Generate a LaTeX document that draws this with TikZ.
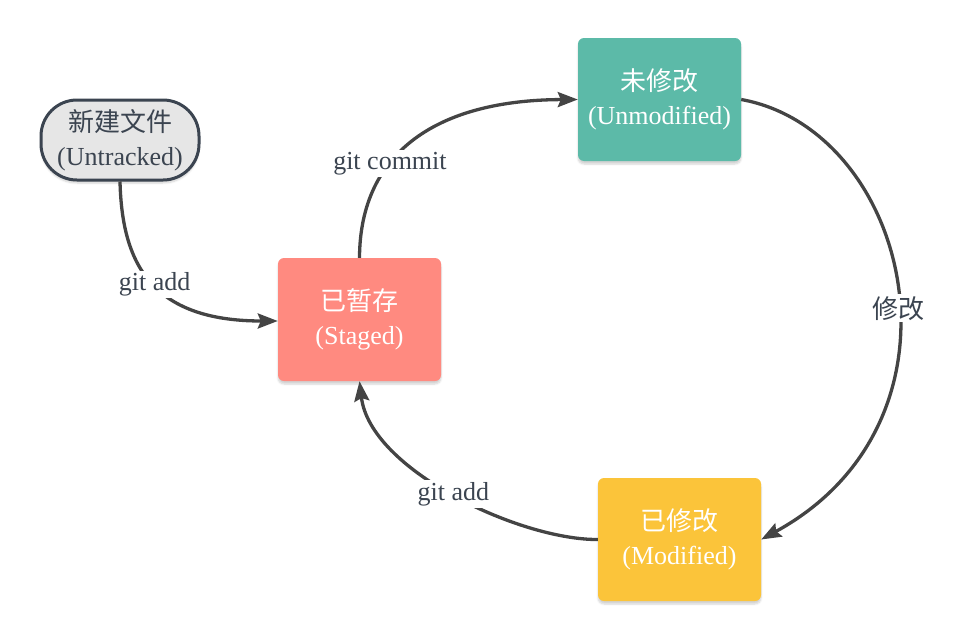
\documentclass[tikz,border=0pt]{standalone}
\usepackage{fontspec}
\setmainfont{Liberation Serif}
\newfontfamily\cjk{Noto Sans CJK SC}
\usepackage{tikz}
\usetikzlibrary{arrows.meta,shadows.blur}
\definecolor{wenzi}{HTML}{3B4450}
\definecolor{xian}{HTML}{444444}
\definecolor{weixiugai}{HTML}{5CBAA8}
\definecolor{zancun}{HTML}{FF8A80}
\definecolor{xiugai}{HTML}{FBC43A}
\definecolor{xinjian}{HTML}{E6E6E6}

\begin{document}
\begin{tikzpicture}[x=1pt, y=-1pt,
	>={Stealth[length=20pt,width=15pt,inset=3pt]},
	zhuangtai/.style={minimum width=163pt, minimum height=123pt, rounded corners=6pt,
		align=center, text=white, font=\fontsize{26}{34}\selectfont,
		blur shadow={shadow blur steps=6, shadow xshift=0pt, shadow yshift=-3pt, shadow opacity=18}},
	biaoqian/.style={fill=white, text=wenzi, inner sep=2pt, font=\fontsize{26}{30}\selectfont},
	jiantou/.style={->, line width=3.3pt, color=xian}]
	\useasboundingbox (0,0) rectangle (967,640);
	% 新建文件
	\node[draw=wenzi, line width=3pt, fill=xinjian, rounded corners=36pt, minimum width=158pt,
		minimum height=80pt, inner sep=0pt, align=center, text=wenzi, font=\fontsize{26}{34}\selectfont,
		blur shadow={shadow blur steps=6, shadow xshift=0pt, shadow yshift=-3pt, shadow opacity=18}]
		(untracked) at (120,140) {{\cjk 新建文件}\\(Untracked)};
	% 已暂存
	\node[zhuangtai, fill=zancun] (staged) at (359.5,319.5) {{\cjk 已暂存}\\(Staged)};
	% 未修改
	\node[zhuangtai, fill=weixiugai] (unmodified) at (659.5,99.5) {{\cjk 未修改}\\(Unmodified)};
	% 已修改
	\node[zhuangtai, fill=xiugai] (modified) at (679.5,539.5) {{\cjk 已修改}\\(Modified)};
	% 箭头
	\draw[jiantou] (untracked.south) .. controls (122,262) and (150,321) .. (staged.west |- 0,321)
		node[biaoqian, pos=0.52] (l1) {git add};
	\draw[jiantou] (staged.north) .. controls (360,150) and (440,100) .. (unmodified.west)
		node[biaoqian, pos=0.36] (l2) {git commit};
	\draw[jiantou] (unmodified.east) .. controls (910,130) and (980,420) .. (modified.east)
		node[biaoqian, pos=0.54] (l3) {\cjk 修改};
	\draw[jiantou] (modified.west) .. controls (520,540) and (370,470) .. (staged.south)
		node[biaoqian, pos=0.5] (l4) {git add};
\end{tikzpicture}
\end{document}
